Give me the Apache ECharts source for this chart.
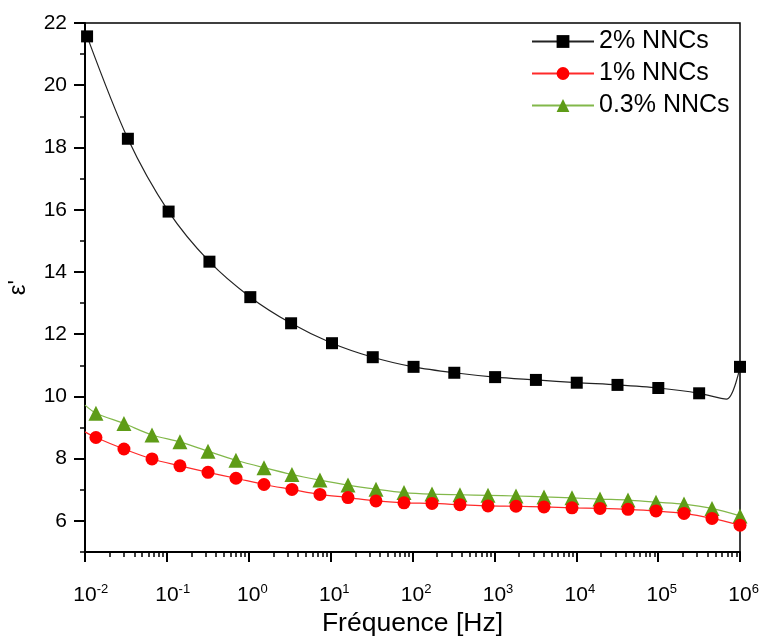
<!DOCTYPE html>
<html>
<head>
<meta charset="utf-8">
<script src="https://cdn.jsdelivr.net/npm/echarts@6/dist/echarts.min.js"></script>
<style>
html,body{margin:0;padding:0;background:#fff;}
#chart{width:764px;height:636px;}
</style>
</head>
<body>
<div id="chart"></div>
<script>
// ---- data ----
var seriesNames = ['2% NNCs', '1% NNCs', '0.3% NNCs'];

// 2% NNCs
var freq2 = [0.0106, 0.0334, 0.105, 0.331, 1.045, 3.29, 10.4, 32.7, 103, 324, 1021, 3216, 10140, 31900, 100500, 317000, 684000, 1000000];
var eps2  = [21.57, 18.28, 15.94, 14.33, 13.19, 12.35, 11.71, 11.26, 10.95, 10.76, 10.62, 10.53, 10.44, 10.37, 10.27, 10.10, 9.91, 10.95];
var noMarker2 = [16];

// 1% and 0.3% NNCs share frequencies
var freqLow = [0.01, 0.0136, 0.0299, 0.0658, 0.1445, 0.318, 0.698, 1.535, 3.37, 7.41, 16.3, 35.8, 78.7, 173, 380, 836, 1837, 4036, 8872, 19498, 42855, 94189, 207014, 454988, 1000000];
var eps1  = [8.86, 8.68, 8.31, 7.99, 7.77, 7.56, 7.37, 7.17, 7.01, 6.85, 6.75, 6.64, 6.58, 6.56, 6.52, 6.48, 6.47, 6.45, 6.42, 6.40, 6.37, 6.32, 6.24, 6.08, 5.86];
var eps03 = [9.72, 9.46, 9.13, 8.76, 8.54, 8.24, 7.95, 7.71, 7.49, 7.31, 7.15, 7.02, 6.91, 6.86, 6.84, 6.82, 6.80, 6.77, 6.74, 6.70, 6.67, 6.60, 6.54, 6.40, 6.16];
var noMarkerLow = [0];

// tick values
var xDecades = [0.01, 0.1, 1, 10, 100, 1000, 10000, 100000, 1000000];
var yMajor = [6, 8, 10, 12, 14, 16, 18, 20, 22];
var yMinor = [5, 7, 9, 11, 13, 15, 17, 19, 21];
var xMinor = [];
for (var d = 0; d < xDecades.length - 1; d++) {
  for (var m = 2; m <= 9; m++) xMinor.push(+(xDecades[d] * m).toPrecision(6));
}

function build(xs, ys, hidden) {
  return xs.map(function (x, i) {
    var item = { value: [x, ys[i]] };
    if (hidden.indexOf(i) >= 0) { item.symbolSize = 0; }
    return item;
  });
}

var FONT = '"Liberation Sans", Arial, sans-serif';
var chart = echarts.init(document.getElementById('chart'), null, { renderer: 'canvas' });

var option = {
  backgroundColor: '#ffffff',
  animation: false,
  textStyle: { fontFamily: FONT },
  grid: {
    left: 85, right: 24, top: 23, bottom: 84,
    outerBoundsMode: 'none', containLabel: false,
    show: true, borderColor: '#000', borderWidth: 1.5, backgroundColor: 'transparent'
  },
  legend: {
    orient: 'vertical',
    left: 526, top: 24,
    itemWidth: 62, itemHeight: 16, itemGap: 7,
    data: seriesNames,
    textStyle: { fontFamily: FONT, fontSize: 25, color: '#000' }
  },
  xAxis: [{
    type: 'log', logBase: 10, min: 0.01, max: 1000000,
    position: 'bottom',
    name: 'Fréquence [Hz]', nameLocation: 'middle', nameGap: 46,
    nameTextStyle: { fontFamily: FONT, fontSize: 26.5, color: '#000' },
    axisLine: { show: true, onZero: false, lineStyle: { color: '#000', width: 2 } },
    axisTick: { show: true, inside: false, length: 10, customValues: xDecades, lineStyle: { color: '#000', width: 2 } },
    axisLabel: {
      customValues: xDecades,
      margin: 31,
      formatter: function (v) {
        var e = Math.round(Math.log(v) / Math.LN10);
        return '{h|' + e + '}{b|10}{s|' + e + '}';
      },
      rich: {
        b: { fontFamily: FONT, fontSize: 21, color: '#000', lineHeight: 24 },
        s: { fontFamily: FONT, fontSize: 13, color: '#000', verticalAlign: 'top', lineHeight: 13 },
        h: { fontFamily: FONT, fontSize: 13, color: 'rgba(0,0,0,0)', verticalAlign: 'top', lineHeight: 13 }
      }
    },
    splitLine: { show: false }
  }, {
    type: 'log', logBase: 10, min: 0.01, max: 1000000,
    position: 'bottom',
    axisLine: { show: false, onZero: false },
    axisTick: { show: true, inside: false, length: 5, customValues: xMinor, lineStyle: { color: '#000', width: 1.5 } },
    axisLabel: { show: false },
    splitLine: { show: false }
  }],
  yAxis: [{
    type: 'value', min: 5, max: 22,
    position: 'left',
    name: "ε'", nameLocation: 'middle', nameGap: 55, nameRotate: 90,
    nameTextStyle: { fontFamily: FONT, fontSize: 24, color: '#000' },
    axisLine: { show: true, onZero: false, lineStyle: { color: '#000', width: 2 } },
    axisTick: { show: true, inside: false, length: 11, customValues: yMajor, lineStyle: { color: '#000', width: 2 } },
    axisLabel: { customValues: yMajor, margin: 18, fontFamily: FONT, fontSize: 21, color: '#000' },
    splitLine: { show: false }
  }, {
    type: 'value', min: 5, max: 22,
    position: 'left',
    axisLine: { show: false, onZero: false },
    axisTick: { show: true, inside: false, length: 5, customValues: yMinor, lineStyle: { color: '#000', width: 1.5 } },
    axisLabel: { show: false },
    splitLine: { show: false }
  }],
  series: [{
    name: seriesNames[0], type: 'line', xAxisIndex: 0, yAxisIndex: 0,
    data: build(freq2, eps2, noMarker2),
    smooth: 0.3,
    symbol: 'rect', symbolSize: 12,
    itemStyle: { color: '#000' },
    lineStyle: { color: '#222', width: 1.2 },
    z: 5
  }, {
    name: seriesNames[1], type: 'line', xAxisIndex: 0, yAxisIndex: 0,
    data: build(freqLow, eps1, noMarkerLow),
    smooth: 0.3,
    symbol: 'circle', symbolSize: 13,
    itemStyle: { color: '#ff0000' },
    lineStyle: { color: '#ff2a2a', width: 1.2 },
    z: 4
  }, {
    name: seriesNames[2], type: 'line', xAxisIndex: 0, yAxisIndex: 0,
    data: build(freqLow, eps03, noMarkerLow),
    smooth: 0.3,
    symbol: 'triangle', symbolSize: 15,
    itemStyle: { color: '#5e9c17' },
    lineStyle: { color: '#82b84a', width: 1.2 },
    z: 3
  }]
};
chart.setOption(option);
</script>
</body>
</html>
